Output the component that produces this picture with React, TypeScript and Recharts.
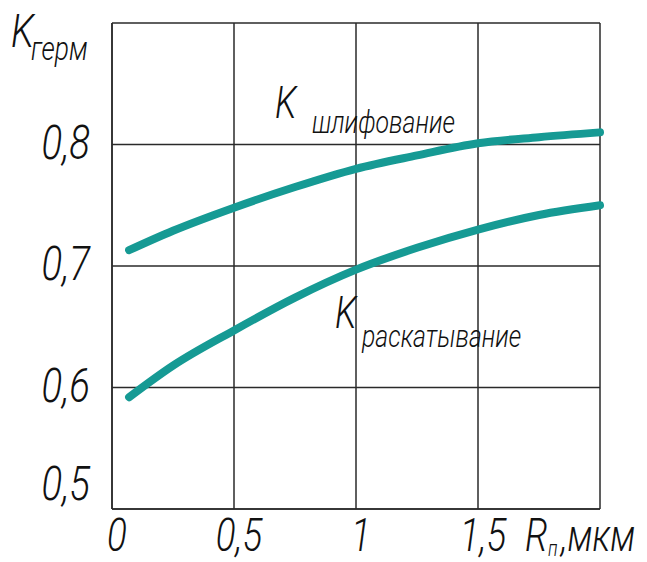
import React from 'react';
import {
  LineChart,
  Line,
  XAxis,
  YAxis,
  CartesianGrid,
  ReferenceDot
} from 'recharts';

// Ra, мкм
const roughness = [0.07, 0.25, 0.5, 0.75, 1.0, 1.25, 1.5, 1.75, 2.0];
// K герм, шлифование
const grinding = [0.713, 0.729, 0.748, 0.765, 0.78, 0.791, 0.801, 0.806, 0.81];
// K герм, раскатывание
const rolling = [0.592, 0.618, 0.647, 0.674, 0.697, 0.715, 0.73, 0.742, 0.75];

const xTicks = [0, 0.5, 1, 1.5, 2];
const yTicks = [0.5, 0.6, 0.7, 0.8, 0.9];

const chartData = roughness.map((r, i) => ({
  r,
  grinding: grinding[i],
  rolling: rolling[i]
}));

const FONT = "Roboto, 'DejaVu Sans', sans-serif";
const TEAL = '#169a94';
const GRID = '#2a2a2a';
const SQUEEZE = 0.8;

const fmt = (v: number) => String(v).replace('.', ',');

// narrow italic text, like the drafting font of the original
function NarrowText({ x, y, anchor = 'start', size, children }: any) {
  return (
    <g transform={`translate(${x},${y}) scale(${SQUEEZE},1)`}>
      <text
        x={0}
        y={0}
        textAnchor={anchor}
        fontFamily={FONT}
        fontStyle="italic"
        fontWeight={300}
        fontSize={size}
        fill="#111"
      >
        {children}
      </text>
    </g>
  );
}

function YTick({ x, y, payload }: any) {
  const v = payload.value;
  if (v === 0.9) return null;
  return (
    <NarrowText x={x - 14} y={y + (v === 0.5 ? -9 : 14)} anchor="end" size={48}>
      {fmt(v)}
    </NarrowText>
  );
}

function XTick({ x, y, payload }: any) {
  const v = payload.value;
  if (v === 2) {
    return (
      <g>
        <NarrowText x={x - 75} y={y + 34} size={46}>R</NarrowText>
        <NarrowText x={x - 52} y={y + 39} size={22}>п</NarrowText>
        <NarrowText x={x - 39} y={y + 34} size={44}>,мкм</NarrowText>
      </g>
    );
  }
  return (
    <NarrowText x={x + 5} y={y + 34} anchor="middle" size={46}>
      {fmt(v)}
    </NarrowText>
  );
}

function CurveLabel({ viewBox, sub, subDx, subDy }: any) {
  const { x, y } = viewBox;
  return (
    <g>
      <NarrowText x={x} y={y} size={44}>K</NarrowText>
      <NarrowText x={x + subDx} y={y + subDy} size={31}>{sub}</NarrowText>
    </g>
  );
}

function AxisTitle({ viewBox }: any) {
  const { x, y } = viewBox;
  return (
    <g>
      <NarrowText x={x + 11} y={y + 24} size={47}>K</NarrowText>
      <NarrowText x={x + 31} y={y + 37} size={33}>герм</NarrowText>
    </g>
  );
}

export default function App() {
  return (
    <div style={{ position: 'absolute', left: 0, top: 0, background: '#fff' }}>
      <LineChart
        width={647}
        height={562}
        data={chartData}
        margin={{ top: 23, right: 47, left: 0, bottom: 0 }}
      >
        <CartesianGrid stroke={GRID} strokeWidth={1.5} />
        <XAxis
          dataKey="r"
          type="number"
          domain={[0, 2]}
          ticks={xTicks}
          height={53}
          tickLine={false}
          axisLine={{ stroke: GRID, strokeWidth: 1.5 }}
          tick={<XTick />}
          interval={0}
        />
        <YAxis
          type="number"
          domain={[0.5, 0.9]}
          ticks={yTicks}
          width={112}
          tickLine={false}
          axisLine={{ stroke: GRID, strokeWidth: 1.5 }}
          tick={<YTick />}
          interval={0}
          label={{ content: (p: any) => <AxisTitle viewBox={p.viewBox} /> }}
        />
        <Line
          type="monotone"
          dataKey="grinding"
          stroke={TEAL}
          strokeWidth={8}
          strokeLinecap="round"
          dot={false}
          isAnimationActive={false}
        />
        <Line
          type="monotone"
          dataKey="rolling"
          stroke={TEAL}
          strokeWidth={8}
          strokeLinecap="round"
          dot={false}
          isAnimationActive={false}
        />
        <ReferenceDot
          x={0.668}
          y={0.8216}
          r={0}
          fill="none"
          stroke="none"
          label={{
            content: (p: any) => (
              <CurveLabel viewBox={p.viewBox} sub="шлифование" subDx={37} subDy={15} />
            )
          }}
        />
        <ReferenceDot
          x={0.914}
          y={0.649}
          r={0}
          fill="none"
          stroke="none"
          label={{
            content: (p: any) => (
              <CurveLabel viewBox={p.viewBox} sub="раскатывание" subDx={27} subDy={19} />
            )
          }}
        />
      </LineChart>
    </div>
  );
}
